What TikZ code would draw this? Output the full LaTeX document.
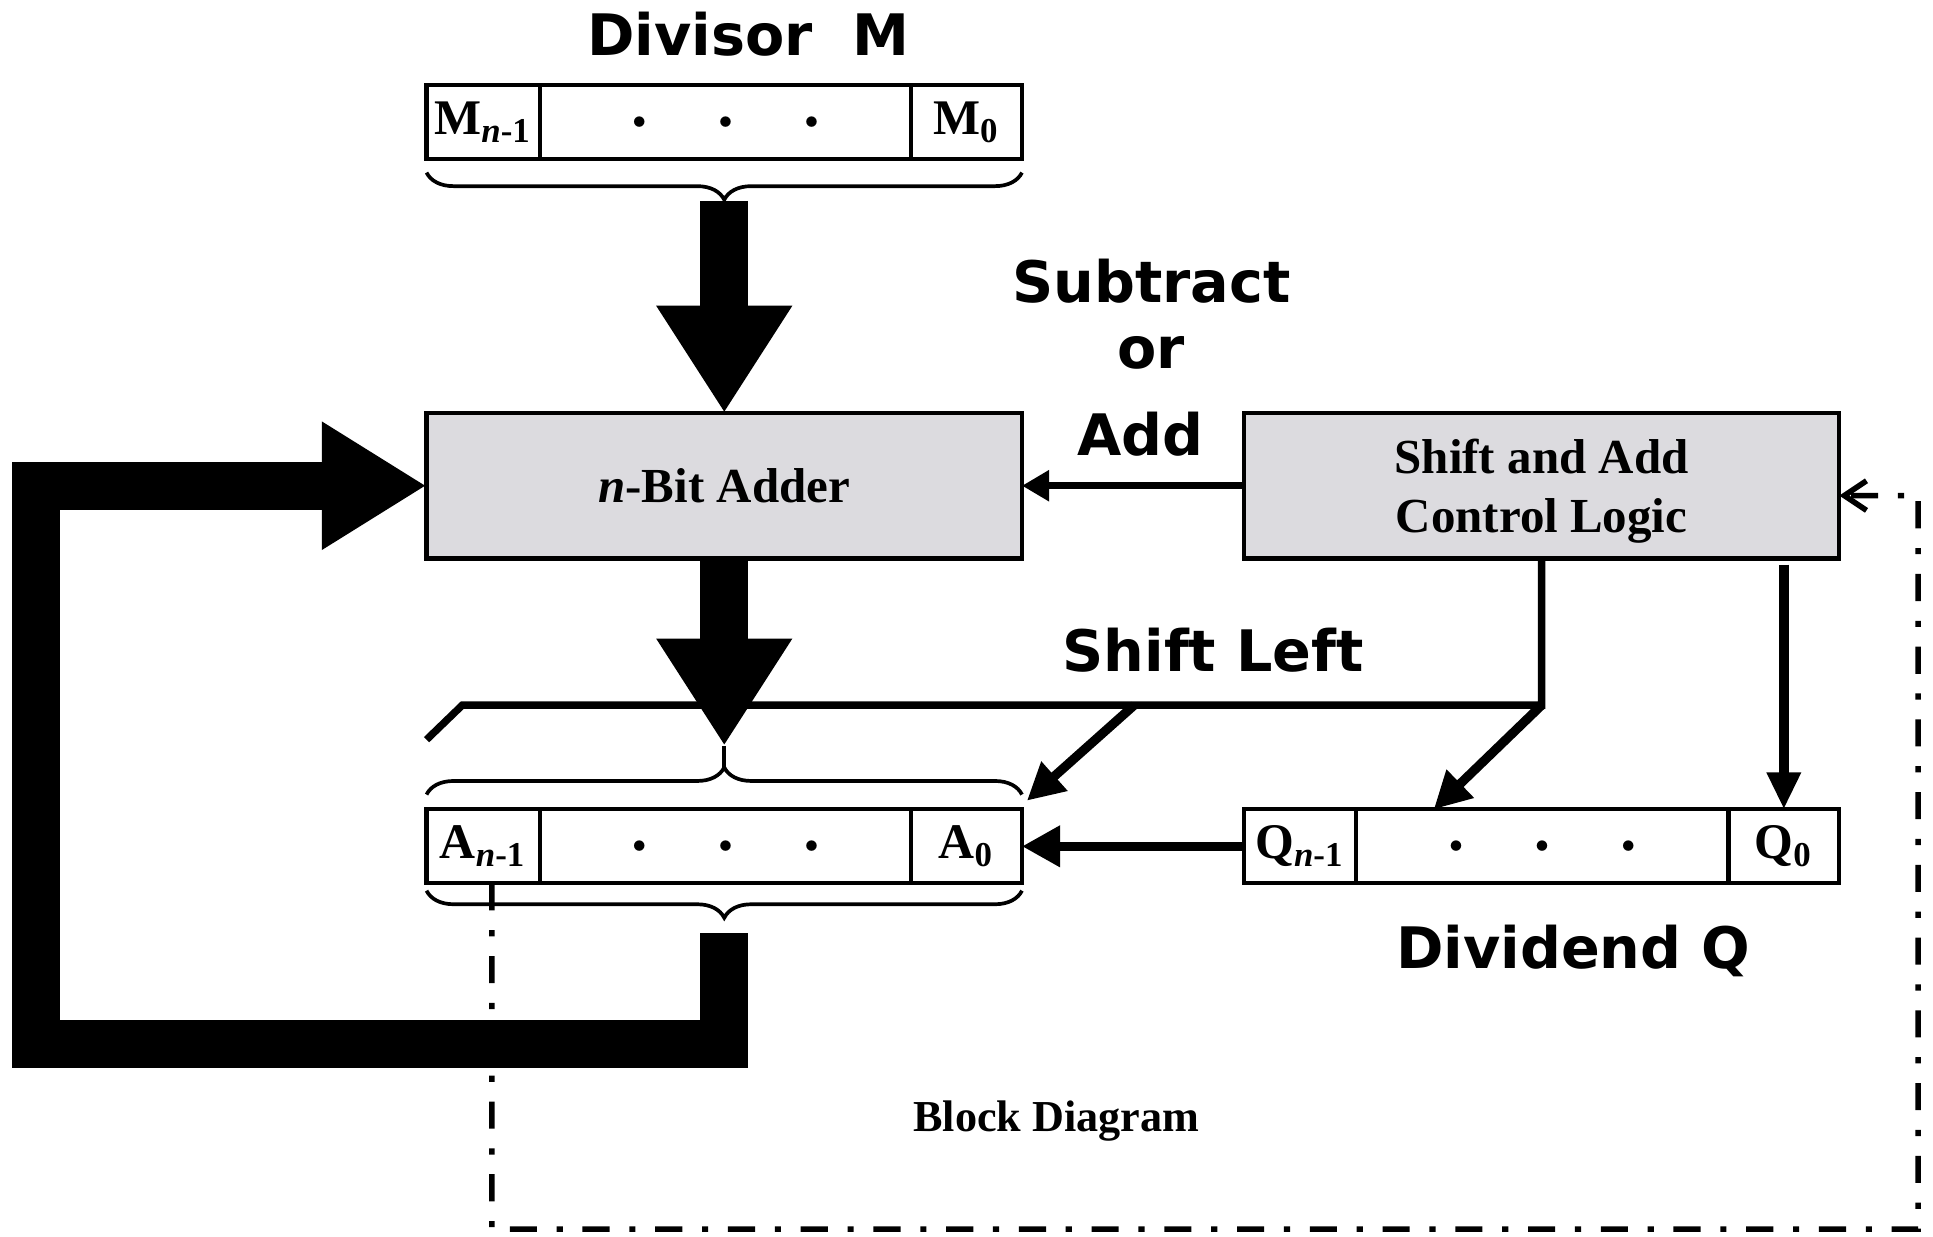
\documentclass[tikz,border=0pt]{standalone}
\usepackage{fontspec}
\setmainfont{Liberation Serif}
\newfontfamily\labelfont{DejaVu Sans}
\usetikzlibrary{positioning,arrows.meta,decorations.pathreplacing}
\definecolor{boxgray}{RGB}{220,219,223}

\begin{document}
\begin{tikzpicture}[
        x=0.1mm, y=-0.1mm,
        cell/.style={rectangle, draw=black, line width=0.35mm, minimum height=6mm, inner sep=0pt, outer sep=0pt, font=\fontsize{11.5}{12}\selectfont\bfseries},
        block/.style={rectangle, draw=black, line width=0.35mm, fill=boxgray, minimum width=48.3mm, minimum height=11.8mm, inner sep=0pt, outer sep=0pt, align=center, text depth=0pt, font=\fontsize{11.3}{13.6}\selectfont\bfseries},
        tag/.style={inner sep=0pt, font=\labelfont\fontsize{13.2}{15}\selectfont\bfseries},
        curly/.style={decorate, decoration={brace, amplitude=2.2mm}, line width=0.3mm},
        bus/.style={line width=3.9mm},
        wire/.style={line width=0.6mm},
        ctlline/.style={line width=0.45mm, dash pattern=on 2.2mm off 1.6mm on 0.5mm off 1.6mm},
        node distance=0pt and 0pt
    ]
    \useasboundingbox (0,0) rectangle (1568,1003);

    % divisor register
    \node[cell, minimum width=9.2mm]                (mhi)  at (392,99)   {M\textsubscript{\textit{n}-1}};
    \node[cell, minimum width=30.1mm, right=of mhi] (mmid)               {\tiny$\bullet$\hspace{5.7mm}$\bullet$\hspace{5.7mm}$\bullet$};
    \node[cell, minimum width=9.0mm, right=of mmid] (mlo)                {M\textsubscript{0}};

    % A register
    \node[cell, minimum width=9.2mm]                (ahi)  at (392,686.5) {A\textsubscript{\textit{n}-1}};
    \node[cell, minimum width=30.1mm, right=of ahi] (amid)                {\tiny$\bullet$\hspace{5.7mm}$\bullet$\hspace{5.7mm}$\bullet$};
    \node[cell, minimum width=9.0mm, right=of amid] (alo)                 {A\textsubscript{0}};

    % Q register
    \node[cell, minimum width=9.1mm]                (qhi)  at (1054.5,686.5) {Q\textsubscript{\textit{n}-1}};
    \node[cell, minimum width=30.2mm, right=of qhi] (qmid)                   {\tiny$\bullet$\hspace{5.7mm}$\bullet$\hspace{5.7mm}$\bullet$};
    \node[cell, minimum width=9.0mm, right=of qmid] (qlo)                    {Q\textsubscript{0}};

    % blocks
    \node[block]                       (adder) at (587.5,394) {\textit{n}-Bit Adder};
    \node[block, right=18mm of adder]  (ctrl)                 {Shift and Add\\Control Logic};

    % braces
    \draw[curly] ([yshift=-1.1mm]mlo.south east) -- ([yshift=-1.1mm]mhi.south west);
    \draw[curly] ([yshift=1.2mm]ahi.north west) -- ([yshift=1.2mm]alo.north east);
    \draw[curly] ([yshift=-0.6mm]alo.south east) -- ([yshift=-0.6mm]ahi.south west);

    % labels
    \node[tag] (divisor)  at (607,28)   {Divisor\ \ M};
    \node[tag] (sub)      at (934,228)  {Subtract};
    \node[tag] (or)       at (934,286)  {or};
    \node[tag] (add)      at (925,352)  {Add};
    \node[tag] (shl)      at (984,527)  {Shift Left};
    \node[tag] (dividend) at (1276,771) {Dividend Q};
    \node[inner sep=0pt, font=\fontsize{10.2}{12}\selectfont\bfseries] (caption) at (857,909) {Block Diagram};

    % wide data paths
    \coordinate (mtip)   at (587.5,163);
    \coordinate (atip)   at (587.5,605);
    \coordinate (abrace) at (587.5,623);
    \coordinate (afb)    at (587.5,757);
    \coordinate (fbbr)   at (587.5,847);
    \coordinate (fbbl)   at (29.5,847);
    \coordinate (fbtl)   at (29.5,394);
    \draw[bus, -{Triangle[width=10.4mm, length=8.7mm]}] (mtip) -- (adder.north);
    \draw[bus, -{Triangle[width=10.4mm, length=8.7mm]}] (adder.south) -- (atip);
    \draw[line width=0.3mm] (atip) -- (abrace);
    \draw[bus, -{Triangle[width=9.8mm, length=8.5mm]}] (afb) -- (fbbr) -- (fbbl) -- (fbtl) -- (adder.west);

    % control lines
    \coordinate (sj)   at (1250.5,572);
    \coordinate (sa)   at (920,572);
    \coordinate (sl)   at (375,572);
    \coordinate (send) at (346,600);
    \draw[wire, -{Triangle[width=2.4mm, length=2.2mm]}] (ctrl.west) -- (adder.east);
    \draw[wire] (ctrl.south) -- (sj) -- (sl) -- (send);
    \draw[wire, line width=0.75mm, -{Triangle[width=3mm, length=3mm]}] (sj) -- ([xshift=6.3mm]qmid.north west);
    \draw[wire, line width=0.75mm, -{Triangle[width=3mm, length=3mm]}] (sa) -- ([shift={(4,-7)}]alo.north east);
    \draw[wire, line width=0.85mm, -{Triangle[width=2.6mm, length=3mm]}] ([yshift=-0.5mm]qlo |- ctrl.south) -- (qlo.north);
    \draw[wire, line width=0.75mm, -{Triangle[width=3.2mm, length=3.1mm]}] (qhi.west) -- (alo.east);

    % sign bit back to control
    \coordinate (dl) at (399,997);
    \coordinate (dr) at (1556,997);
    \coordinate (dt) at (1556,402);
    \draw[ctlline, -{Straight Barb[width=2.4mm, length=1.8mm]}] ([xshift=0.7mm]ahi.south) -- (dl) -- (dr) -- (dt) -- (ctrl.east |- dt);
\end{tikzpicture}
\end{document}
